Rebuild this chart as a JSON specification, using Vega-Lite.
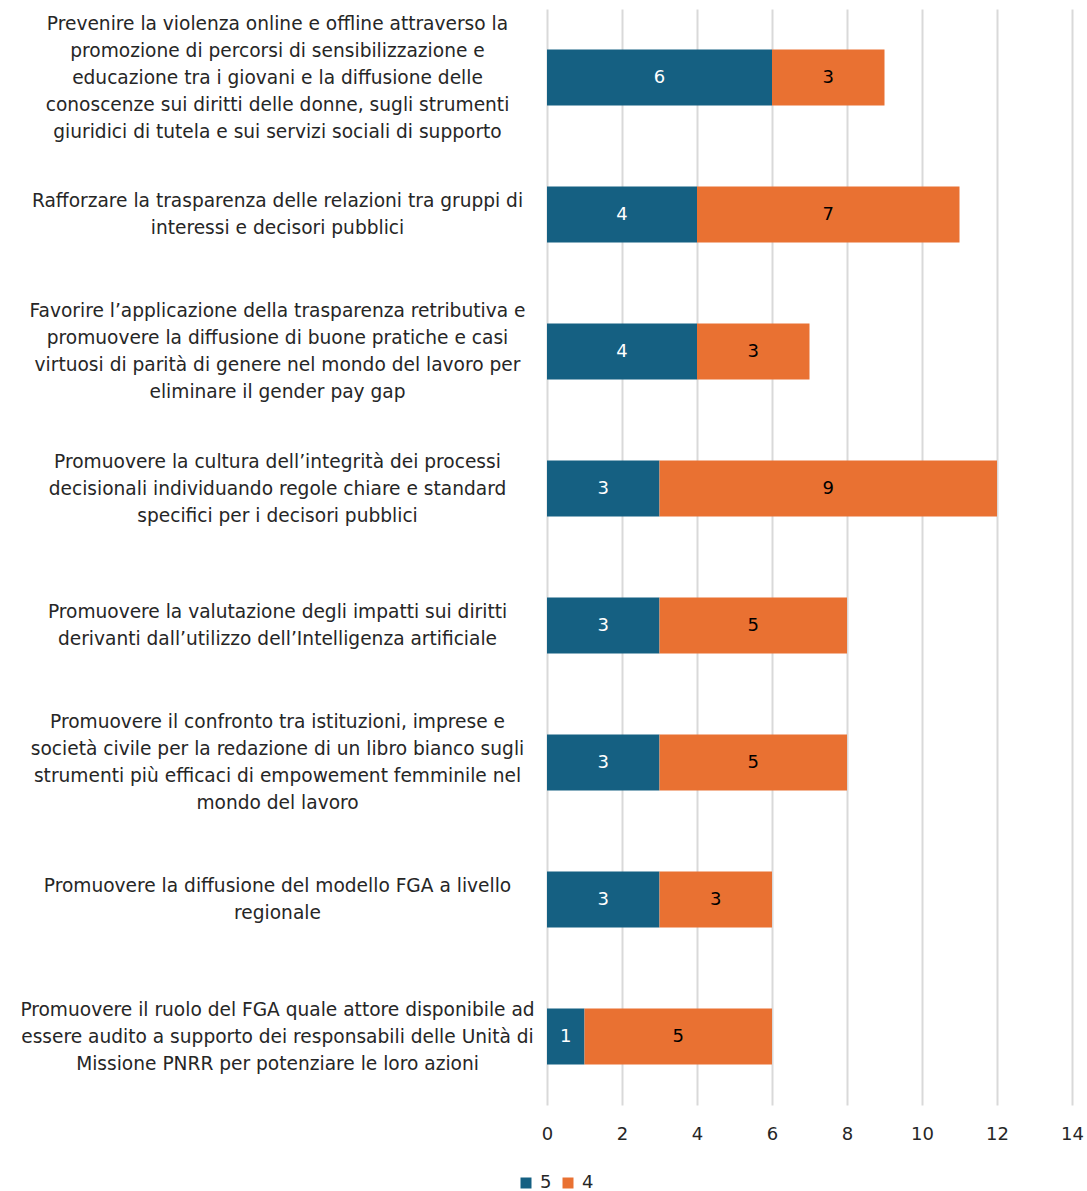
{
  "$schema": "https://vega.github.io/schema/vega-lite/v6.json",
  "autosize": {"type": "none"},
  "padding": {"left": 547, "top": 9, "right": 15, "bottom": 86},
  "width": 525,
  "height": 1096,
  "background": "white",
  "config": {
    "view": {"stroke": null},
    "font": "DejaVu Sans"
  },
  "data": {
    "values": [
      {"cat": "Prevenire la violenza online e offline attraverso la|promozione di percorsi di sensibilizzazione e|educazione tra i giovani e la diffusione delle|conoscenze sui diritti delle donne, sugli strumenti|giuridici di tutela e sui servizi sociali di supporto", "series": "5", "value": 6},
      {"cat": "Prevenire la violenza online e offline attraverso la|promozione di percorsi di sensibilizzazione e|educazione tra i giovani e la diffusione delle|conoscenze sui diritti delle donne, sugli strumenti|giuridici di tutela e sui servizi sociali di supporto", "series": "4", "value": 3},
      {"cat": "Rafforzare la trasparenza delle relazioni tra gruppi di|interessi e decisori pubblici", "series": "5", "value": 4},
      {"cat": "Rafforzare la trasparenza delle relazioni tra gruppi di|interessi e decisori pubblici", "series": "4", "value": 7},
      {"cat": "Favorire l’applicazione della trasparenza retributiva e|promuovere la diffusione di buone pratiche e casi|virtuosi di parità di genere nel mondo del lavoro per|eliminare il gender pay gap", "series": "5", "value": 4},
      {"cat": "Favorire l’applicazione della trasparenza retributiva e|promuovere la diffusione di buone pratiche e casi|virtuosi di parità di genere nel mondo del lavoro per|eliminare il gender pay gap", "series": "4", "value": 3},
      {"cat": "Promuovere la cultura dell’integrità dei processi|decisionali individuando regole chiare e standard|specifici per i decisori pubblici", "series": "5", "value": 3},
      {"cat": "Promuovere la cultura dell’integrità dei processi|decisionali individuando regole chiare e standard|specifici per i decisori pubblici", "series": "4", "value": 9},
      {"cat": "Promuovere la valutazione degli impatti sui diritti|derivanti dall’utilizzo dell’Intelligenza artificiale", "series": "5", "value": 3},
      {"cat": "Promuovere la valutazione degli impatti sui diritti|derivanti dall’utilizzo dell’Intelligenza artificiale", "series": "4", "value": 5},
      {"cat": "Promuovere il confronto tra istituzioni, imprese e|società civile per la redazione di un libro bianco sugli|strumenti più efficaci di empowement femminile nel|mondo del lavoro", "series": "5", "value": 3},
      {"cat": "Promuovere il confronto tra istituzioni, imprese e|società civile per la redazione di un libro bianco sugli|strumenti più efficaci di empowement femminile nel|mondo del lavoro", "series": "4", "value": 5},
      {"cat": "Promuovere la diffusione del modello FGA a livello|regionale", "series": "5", "value": 3},
      {"cat": "Promuovere la diffusione del modello FGA a livello|regionale", "series": "4", "value": 3},
      {"cat": "Promuovere il ruolo del FGA quale attore disponibile ad|essere audito a supporto dei responsabili delle Unità di|Missione PNRR per potenziare le loro azioni", "series": "5", "value": 1},
      {"cat": "Promuovere il ruolo del FGA quale attore disponibile ad|essere audito a supporto dei responsabili delle Unità di|Missione PNRR per potenziare le loro azioni", "series": "4", "value": 5}
    ]
  },
  "encoding": {
    "y": {
      "field": "cat", "type": "nominal", "sort": null,
      "scale": {"paddingInner": 0.59, "paddingOuter": 0.295},
      "axis": {
        "title": null, "ticks": false, "domain": false, "grid": false,
        "labelExpr": "split(datum.label, '|')",
        "labelAlign": "center", "labelPadding": 270, "labelLimit": 700,
        "labelFontSize": 18.6, "labelLineHeight": 27, "labelColor": "#262626",
        "labelOffset": {
          "condition": [
            {"test": "length(split(datum.label, '|')) == 5", "value": -54},
            {"test": "length(split(datum.label, '|')) == 4", "value": -40.5},
            {"test": "length(split(datum.label, '|')) == 3", "value": -27}
          ],
          "value": -13.5
        }
      }
    }
  },
  "layer": [
    {
      "mark": {"type": "bar"},
      "encoding": {
        "x": {
          "field": "value", "type": "quantitative", "stack": "zero",
          "scale": {"domain": [0, 14], "nice": false},
          "axis": {
            "title": null, "values": [0, 2, 4, 6, 8, 10, 12, 14],
            "domain": false, "ticks": false, "grid": true, "labelFlush": false,
            "gridColor": "#d9d9d9", "gridWidth": 2,
            "labelFontSize": 18, "labelColor": "#262626", "labelPadding": 20
          }
        },
        "color": {
          "field": "series", "type": "nominal",
          "scale": {"domain": ["5", "4"], "range": ["#156082", "#E97132"]},
          "legend": {
            "title": null, "orient": "none", "direction": "horizontal",
            "legendX": -30, "legendY": 1165,
            "symbolType": "square", "symbolSize": 121, "symbolStrokeWidth": 0,
            "labelFontSize": 18, "labelColor": "#262626", "columnPadding": 7, "labelOffset": 5
          }
        },
        "order": {"field": "series", "sort": "descending"}
      }
    },
    {
      "mark": {"type": "text", "fontSize": 18},
      "encoding": {
        "x": {"field": "value", "type": "quantitative", "stack": "zero", "bandPosition": 0.5},
        "detail": {"field": "series", "type": "nominal"},
        "order": {"field": "series", "sort": "descending"},
        "text": {"field": "value", "type": "quantitative"},
        "color": {"condition": {"test": "datum.series === '5'", "value": "#ffffff"}, "value": "#000000"}
      }
    }
  ]
}
